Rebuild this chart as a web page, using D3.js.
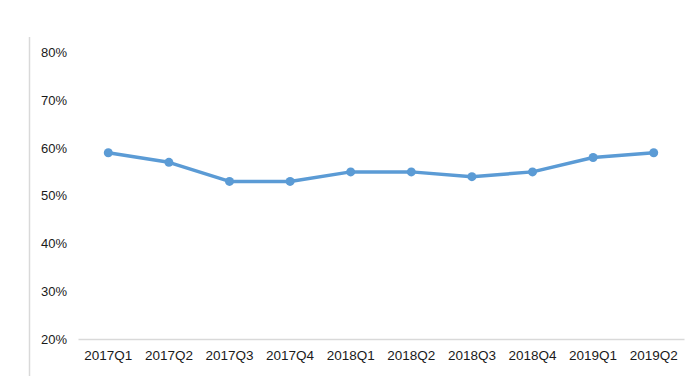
<!DOCTYPE html>
<html>
<head>
<meta charset="utf-8">
<script src="https://cdn.jsdelivr.net/npm/d3@7"></script>
<style>
  body { margin: 0; background: #fff; }
  svg { display: block; font-family: "Open Sans", "Liberation Sans", sans-serif; }
</style>
</head>
<body>
<div id="box"></div>
<script>
'use strict';

var quarters = ["2017Q1", "2017Q2", "2017Q3", "2017Q4", "2018Q1", "2018Q2", "2018Q3", "2018Q4", "2019Q1", "2019Q2"];
var ratio = [59, 57, 53, 53, 55, 55, 54, 55, 58, 59];
var yTicks = [20, 30, 40, 50, 60, 70, 80];

var width = 700, height = 389;
var margin = { left: 78, right: 16, top: 52.5, bottom: 50 };

var svg = d3.select("#box")
  .append("svg")
    .attr("width", width)
    .attr("height", height);

// left border line of the picture
svg.append("line")
  .attr("x1", 29.5).attr("x2", 29.5)
  .attr("y1", 37).attr("y2", 376)
  .attr("stroke", "#d9d9d9")
  .attr("stroke-width", 1.5);

var x = d3.scaleBand()
  .domain(quarters)
  .range([margin.left, width - margin.right]);

var y = d3.scaleLinear()
  .domain([20, 80])
  .range([height - margin.bottom, margin.top]);

// X axis: baseline + labels
var xAxis = svg.append("g")
  .attr("transform", "translate(0," + y(20) + ")")
  .call(d3.axisBottom(x).tickSize(0).tickPadding(11));
xAxis.select(".domain").attr("stroke", "#d9d9d9").attr("stroke-width", 1.5);
xAxis.selectAll("text")
  .style("font-size", "13.5px")
  .attr("fill", "#1a1a1a");

// Y axis: labels only
var yAxis = svg.append("g")
  .attr("transform", "translate(" + 67 + ",0)")
  .call(d3.axisLeft(y).tickValues(yTicks).tickSize(0).tickPadding(0)
    .tickFormat(function(d) { return d + "%"; }));
yAxis.select(".domain").remove();
yAxis.selectAll("text")
  .style("font-size", "13px")
  .attr("fill", "#1a1a1a");

// line
svg.append("path")
  .datum(ratio)
  .attr("fill", "none")
  .attr("stroke", "#5b9bd5")
  .attr("stroke-width", 3.5)
  .attr("stroke-linejoin", "round")
  .attr("d", d3.line()
    .x(function(d, i) { return x(quarters[i]) + x.bandwidth() / 2; })
    .y(function(d) { return y(d); }));

// markers
svg.selectAll("circle.pt")
  .data(ratio)
  .enter().append("circle")
    .attr("class", "pt")
    .attr("cx", function(d, i) { return x(quarters[i]) + x.bandwidth() / 2; })
    .attr("cy", function(d) { return y(d); })
    .attr("r", 4.5)
    .attr("fill", "#5b9bd5");
</script>
</body>
</html>
